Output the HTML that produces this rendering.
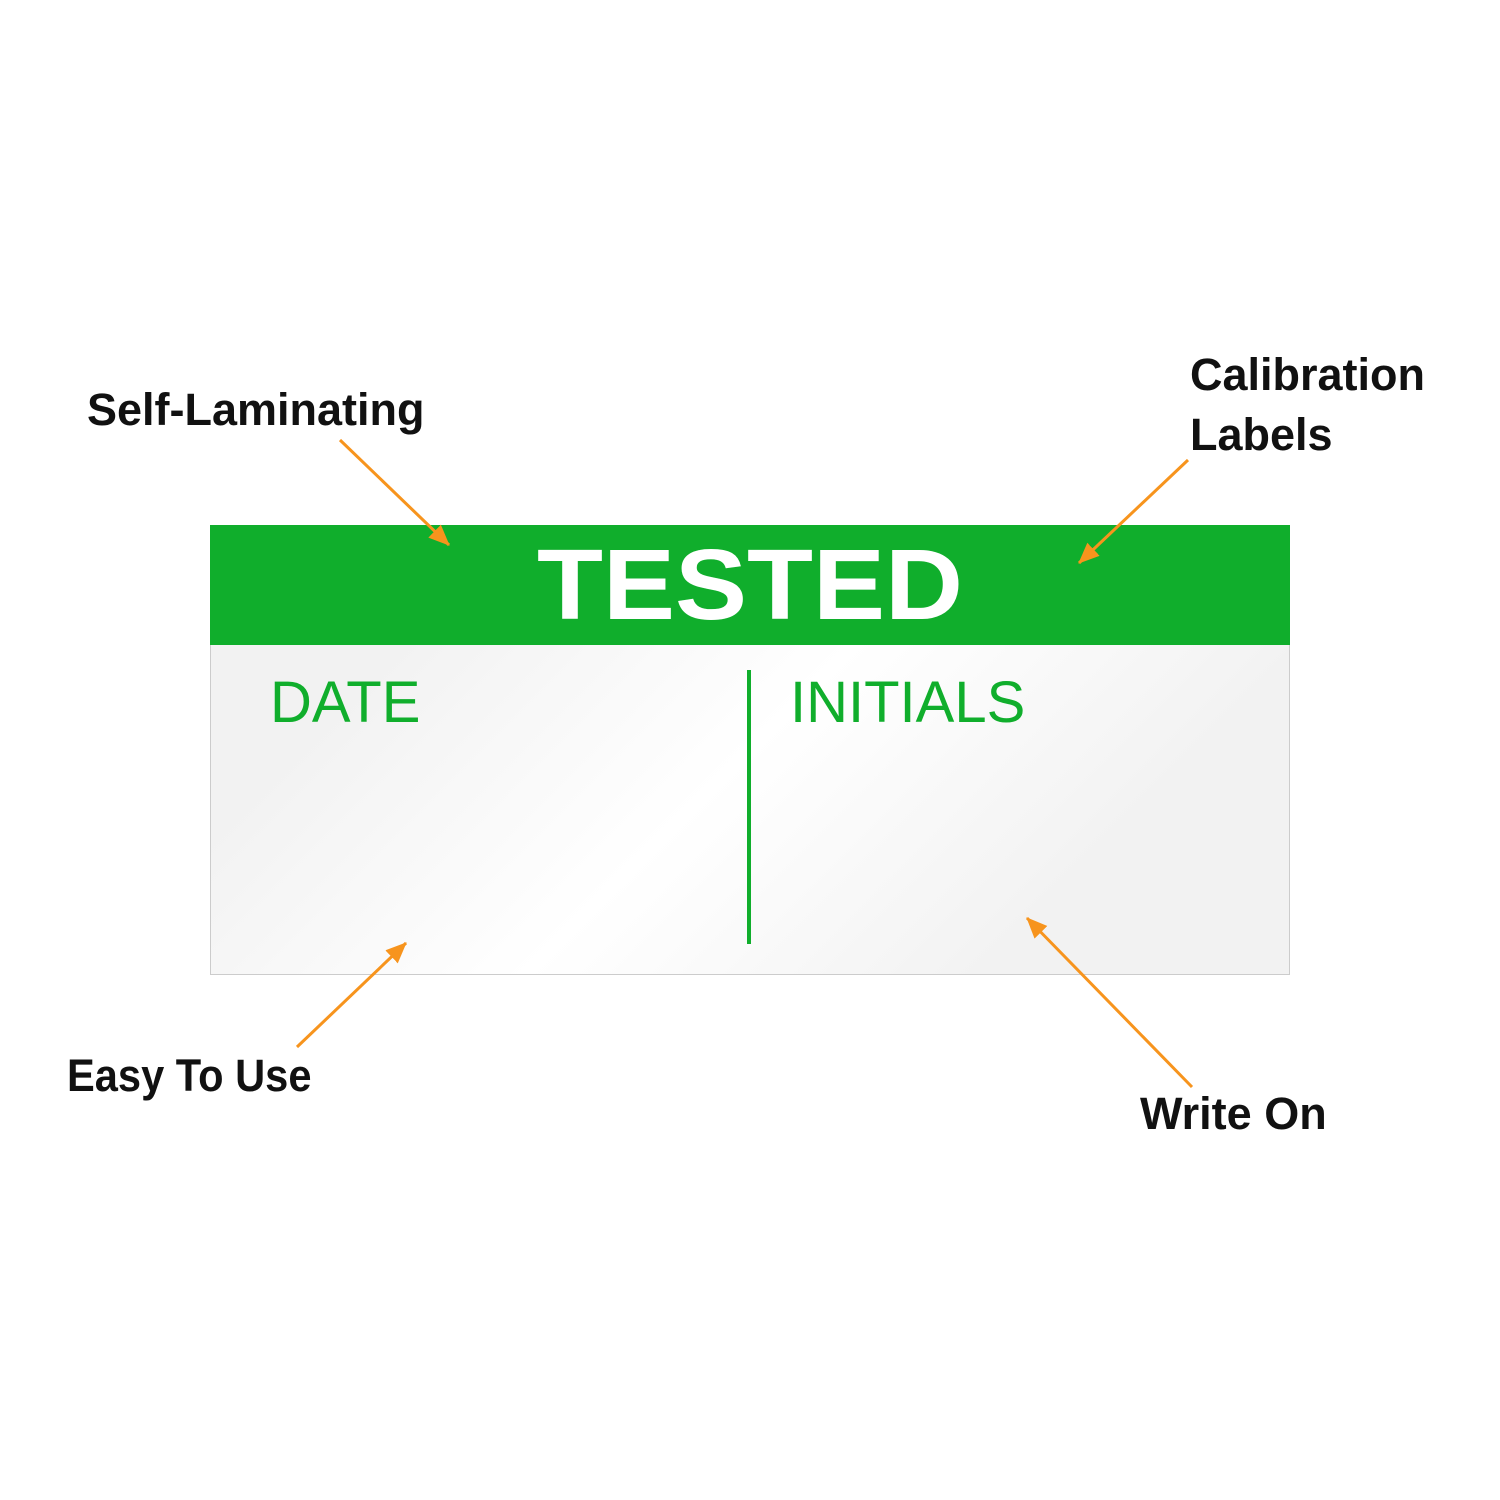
<!DOCTYPE html>
<html><head><style>
body{margin:0;width:1500px;height:1500px;background:#fff;position:relative;overflow:hidden;font-family:"Liberation Sans",sans-serif}
.lbl{position:absolute;font-weight:bold;font-size:45px;color:#111;line-height:60px;white-space:nowrap}
</style></head><body>
<div style="position:absolute;left:210px;top:525px;width:1078px;height:448px;border:1px solid #ccc;background:linear-gradient(135deg,#f2f2f2 20%,#fff 50%,#f2f2f2 80%)"></div>
<div style="position:absolute;left:210px;top:525px;width:1080px;height:120px;background:#10ae2c"></div>
<div style="position:absolute;left:210px;top:525px;width:1080px;height:120px;color:#fff;font-weight:bold;font-size:100px;text-align:center;line-height:120px;transform:scaleX(1.08);transform-origin:center">TESTED</div>
<div style="position:absolute;left:270px;top:670px;color:#10ae2c;font-size:58px;line-height:66px">DATE</div>
<div style="position:absolute;left:790px;top:670px;color:#10ae2c;font-size:58px;line-height:66px">INITIALS</div>
<div style="position:absolute;left:747px;top:670px;width:4px;height:274px;background:#10ae2c"></div>
<div class="lbl" style="left:87px;top:380px">Self-Laminating</div>
<div class="lbl" style="left:1190px;top:345px">Calibration<br>Labels</div>
<div class="lbl" style="left:67px;top:1046px;transform:scaleX(0.925);transform-origin:0 0">Easy To Use</div>
<div class="lbl" style="left:1140px;top:1084px">Write On</div>
<svg width="1500" height="1500" style="position:absolute;left:0;top:0">
<defs><marker id="a" markerWidth="22" markerHeight="20" refX="20" refY="9" orient="auto" markerUnits="userSpaceOnUse"><path d="M0,0 L21,9 L0,18z" fill="#f7941d"/></marker></defs>
<g stroke="#f7941d" stroke-width="3" fill="none">
<line x1="340" y1="440" x2="449" y2="545" marker-end="url(#a)"/>
<line x1="1188" y1="460" x2="1079" y2="563" marker-end="url(#a)"/>
<line x1="297" y1="1047" x2="406" y2="943" marker-end="url(#a)"/>
<line x1="1192" y1="1087" x2="1027" y2="918" marker-end="url(#a)"/>
</g></svg>
</body></html>
